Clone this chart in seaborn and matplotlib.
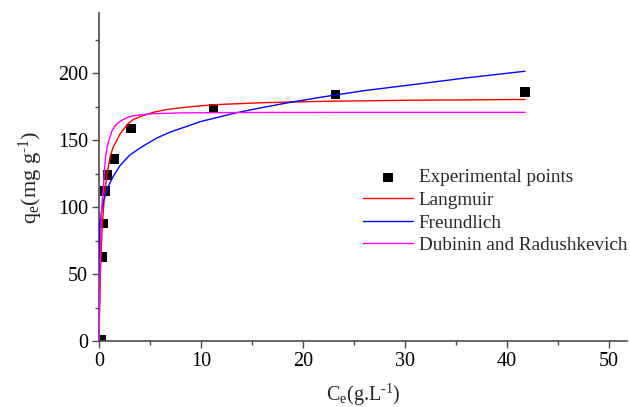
import matplotlib
matplotlib.use("Agg")
import matplotlib.pyplot as plt
import seaborn as sns
import pandas as pd
from matplotlib.ticker import MultipleLocator

# Experimental points
exp_c = [0.25, 0.36, 0.42, 0.59, 0.85, 1.5, 3.14, 11.2, 23.2, 41.8]
exp_q = [1, 62.7, 87.5, 112, 124, 136, 159, 173.5, 184, 186]

# Curves
lang_c = [0, 0.05, 0.15, 0.3, 0.45, 0.59, 0.8, 1.1, 1.4, 1.76, 2.06, 2.5, 2.9, 3.37,
          4.2, 5.3, 6.5, 8, 10, 11.9, 16, 21.7, 30, 41.8]
lang_q = [0, 22, 54, 83, 100, 113, 125, 138, 145, 150, 154.6, 159, 162.6, 165.5,
          168, 170.8, 172.7, 174.2, 175.7, 176.7, 178, 179, 179.8, 180.4]

freu_c = [0, 0.003, 0.02, 0.1, 0.25, 0.42, 0.69, 1.0, 1.4, 2.06, 2.6, 3.04, 4.2, 5.65,
          6.96, 8.5, 10, 11.9, 13.5, 15.1, 18.4, 21.7, 26, 30.8, 36, 41.8]
freu_q = [0, 50, 70, 87, 97, 104, 111, 117, 123, 131, 135.5, 139, 145, 151.5,
          156, 160, 164, 167.5, 170.5, 173, 177.8, 182, 187, 191.5, 196.5, 201.5]

dr_c = [0, 0.03, 0.13, 0.2, 0.3, 0.42, 0.53, 0.65, 0.8, 0.98, 1.25, 1.6, 2.06, 2.75,
        3.37, 4.2, 5.3, 8, 15, 25, 41.8]
dr_q = [0, 14, 63, 88, 103, 113, 127, 138, 145, 150, 156.5, 161, 164, 167,
        168.2, 169, 169.8, 170.4, 170.7, 170.8, 170.8]

x_ticks = [0, 10, 20, 30, 40, 50]
y_ticks = [0, 50, 100, 150, 200]

sns.set_theme(style="ticks")
plt.rcParams["font.family"] = ["Liberation Serif", "DejaVu Serif"]
plt.rcParams["font.serif"] = ["Liberation Serif", "DejaVu Serif"]
plt.rcParams["mathtext.fontset"] = "custom"
plt.rcParams["mathtext.rm"] = "Liberation Serif"
plt.rcParams["mathtext.it"] = "Liberation Serif:italic"
plt.rcParams["mathtext.bf"] = "Liberation Serif:bold"

fig = plt.figure(figsize=(6.3, 4.07), dpi=100)
ax = fig.add_axes([99 / 630, 1 - 341 / 407, (627 - 99) / 630, (341 - 13) / 407])

exp_df = pd.DataFrame({"C": exp_c, "q": exp_q})
sns.scatterplot(data=exp_df, x="C", y="q", marker="s", s=44, color="black",
                edgecolor="none", label="Experimental points", ax=ax, zorder=2)

for cs, qs, col, name in [(lang_c, lang_q, "#ff0000", "Langmuir"),
                          (freu_c, freu_q, "#0000ff", "Freundlich"),
                          (dr_c, dr_q, "#ff00ff", "Dubinin and Radushkevich")]:
    df = pd.DataFrame({"C": cs, "q": qs})
    sns.lineplot(data=df, x="C", y="q", estimator=None, sort=False, color=col,
                 linewidth=1.0, label=name, ax=ax, zorder=3)

ax.set_xlim(0, 51.8)
ax.set_ylim(0, 245)
ax.set_xticks(x_ticks)
ax.set_yticks(y_ticks)
ax.xaxis.set_minor_locator(MultipleLocator(5))
ax.yaxis.set_minor_locator(MultipleLocator(25))

spine_col = "#4a4a4a"
for s in ["top", "right"]:
    ax.spines[s].set_visible(False)
for s in ["left", "bottom"]:
    ax.spines[s].set_color(spine_col)
    ax.spines[s].set_linewidth(1.2)
ax.tick_params(which="major", length=5, width=1.0, color=spine_col, labelsize=14.5,
               labelcolor="black", pad=3)
ax.tick_params(which="minor", length=3, width=1.0, color=spine_col)
for lab in ax.get_xticklabels() + ax.get_yticklabels():
    lab.set_fontfamily(["Liberation Serif", "DejaVu Serif"])

ax.set_xlabel("C$_\\mathrm{e}$(g.L$^{\\mathrm{-1}}$)".replace("-", "\u2010"),
              fontsize=14.5, labelpad=8, family=["Liberation Serif", "DejaVu Serif"])
ax.set_ylabel("q$_\\mathrm{e}$(mg g$^{\\mathrm{-1}}$)".replace("-", "\u2010"),
              fontsize=16, labelpad=9, family=["Liberation Serif", "DejaVu Serif"])

leg = ax.legend(loc="upper left", bbox_to_anchor=(363 / 630, 1 - 169 / 407),
                bbox_transform=fig.transFigure, frameon=False, fontsize=13.8,
                handlelength=2.6, handletextpad=0.3, labelspacing=0.27,
                borderpad=0, borderaxespad=0,
                prop={"family": ["Liberation Serif", "DejaVu Serif"], "size": 13.8})

fig.savefig("out.png", dpi=100)
